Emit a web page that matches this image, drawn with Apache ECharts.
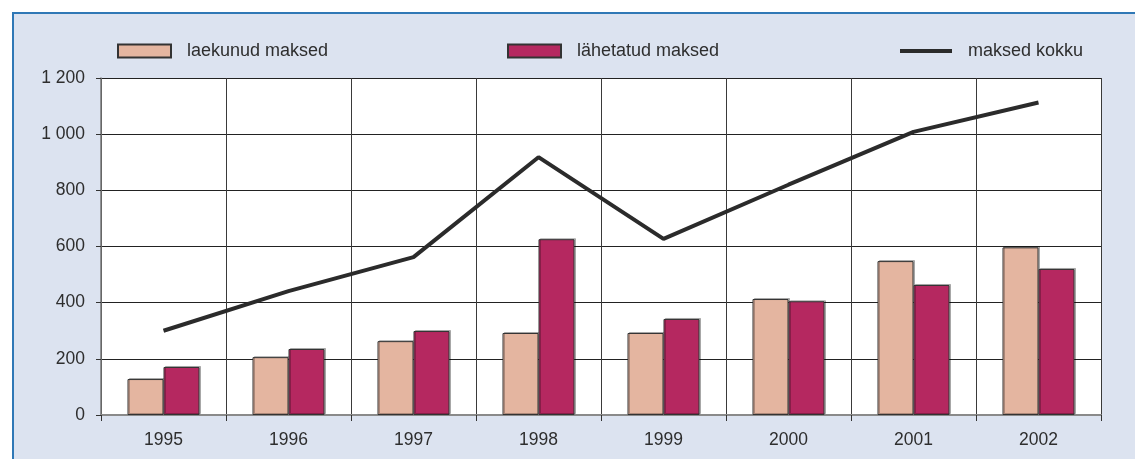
<!DOCTYPE html>
<html>
<head>
<meta charset="utf-8">
<script src="https://cdn.jsdelivr.net/npm/echarts@6/dist/echarts.min.js"></script>
<style>
  html, body { margin: 0; padding: 0; background: #fff; }
  #chart { width: 1135px; height: 459px; }
</style>
</head>
<body>
<div id="chart"></div>
<script>
var years = ['1995', '1996', '1997', '1998', '1999', '2000', '2001', '2002'];
var laekunud = [128, 206, 263, 292, 292, 413, 548, 597];
var lahetatud = [171, 235, 299, 626, 342, 405, 463, 520];
var kokku = [300, 441, 562, 918, 627, 820, 1008, 1113];
var yTicks = [0, 200, 400, 600, 800, 1000, 1200];

var font = 'Liberation Sans, Arial, sans-serif';
var txt = { color: '#2e2e2e', fontSize: 17.5, fontFamily: font };

var myChart = echarts.init(document.getElementById('chart'));

// one legend box per item, placed like the original
function legendAt(x, name, w, h) {
    return {
        left: x, top: 42,
        itemWidth: w, itemHeight: h,
        padding: 0,
        selectedMode: false,
        data: [{ name: name, icon: 'rect' }],
        textStyle: Object.assign({}, txt, { fontSize: 18, padding: [0, 0, 0, 11] })
    };
}

myChart.setOption({
    animation: false,
    graphic: [{
        type: 'rect',
        z: -10,
        shape: { x: 13, y: 13, width: 1140, height: 460 },
        style: { fill: '#dce3f0', stroke: '#2f78b6', lineWidth: 2 }
    }],
    legend: [
        legendAt(117, 'laekunud maksed', 53, 13),
        legendAt(507, 'lähetatud maksed', 53, 13),
        legendAt(900, 'maksed kokku', 52, 4)
    ],
    grid: {
        left: 101, right: 34, top: 78, bottom: 44,
        show: true, backgroundColor: '#fff', borderWidth: 0
    },
    xAxis: {
        type: 'category',
        data: years,
        boundaryGap: true,
        axisLine: { lineStyle: { color: '#8a8a8a', width: 2 } },
        axisTick: { show: true, length: 6, lineStyle: { color: '#333' } },
        axisLabel: Object.assign({ margin: 16 }, txt),
        splitLine: { show: true, lineStyle: { color: '#3a3a3a', width: 1 } }
    },
    yAxis: {
        type: 'value',
        min: yTicks[0], max: yTicks[yTicks.length - 1], interval: 200,
        axisLine: { show: true, lineStyle: { color: '#777', width: 1.5 } },
        axisTick: { show: true, length: 5, lineStyle: { color: '#333' } },
        axisLabel: Object.assign({ margin: 16, formatter: function (v) {
            return String(v).replace(/\B(?=(\d{3})+(?!\d))/g, ' ');
        } }, txt),
        splitLine: { show: true, lineStyle: { color: '#222', width: 1 } }
    },
    series: [{
        name: 'laekunud maksed',
        type: 'bar',
        data: laekunud,
        barWidth: 36,
        barGap: '0%',
        itemStyle: { color: '#e4b5a0', borderColor: '#333', borderWidth: 1,
            shadowColor: 'rgba(0,0,0,0.25)', shadowOffsetX: 1.5, shadowOffsetY: -1 }
    }, {
        name: 'lähetatud maksed',
        type: 'bar',
        data: lahetatud,
        barWidth: 36,
        barGap: '0%',
        itemStyle: { color: '#b52860', borderColor: '#333', borderWidth: 1,
            shadowColor: 'rgba(0,0,0,0.25)', shadowOffsetX: 1.5, shadowOffsetY: -1 }
    }, {
        name: 'maksed kokku',
        type: 'line',
        data: kokku,
        symbol: 'none',
        z: 5,
        itemStyle: { color: '#2b2b2b' },
        lineStyle: { color: '#2b2b2b', width: 4 }
    }]
});
</script>
</body>
</html>
